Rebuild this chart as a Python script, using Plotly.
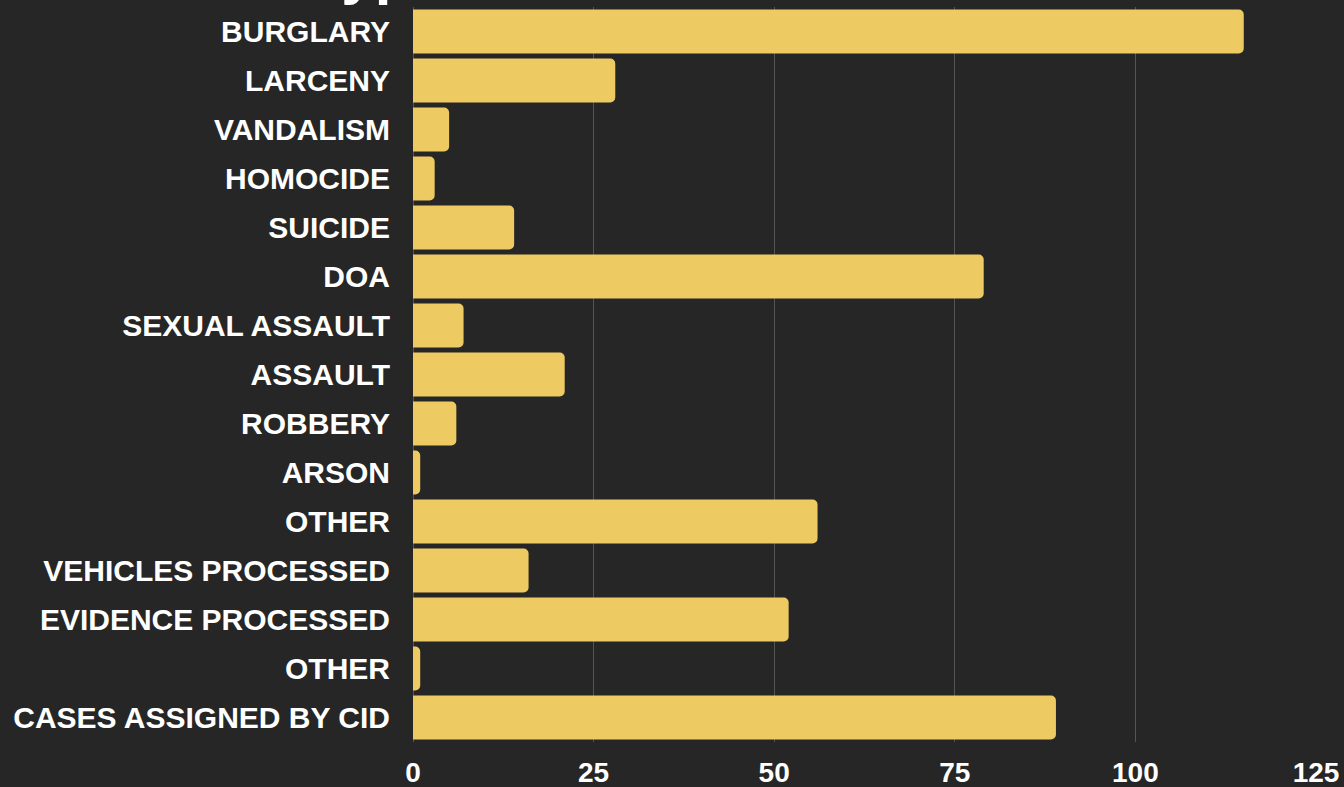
import plotly.graph_objects as go

categories = [
    "BURGLARY", "LARCENY", "VANDALISM", "HOMOCIDE", "SUICIDE", "DOA",
    "SEXUAL ASSAULT", "ASSAULT", "ROBBERY", "ARSON", "OTHER",
    "VEHICLES PROCESSED", "EVIDENCE PROCESSED", "OTHER", "CASES ASSIGNED BY CID",
]
values = [115, 28, 5, 3, 14, 79, 7, 21, 6, 1, 56, 16, 52, 1, 89]
x_ticks = [0, 25, 50, 75, 100, 125]
title_text = "Case Type"

positions = list(range(len(categories)))

fig = go.Figure(go.Bar(
    x=values,
    y=positions,
    orientation="h",
    marker=dict(color="#EECA62", line=dict(width=0)),
    hoverinfo="x+text",
    text=categories,
    textposition="none",
))

fig.update_layout(
    width=1344, height=787,
    paper_bgcolor="#262626", plot_bgcolor="#262626",
    margin=dict(l=413, r=28, t=7, b=45, autoexpand=False),
    bargap=0.1,
    barcornerradius=5,
    showlegend=False,
    font=dict(family="Liberation Sans, Arial, sans-serif", color="#FFFFFF"),
)
fig.update_xaxes(
    range=[0, 125], tickvals=x_ticks, ticktext=[str(v) for v in x_ticks],
    showgrid=True, gridcolor="#555555", gridwidth=1,
    zeroline=True, zerolinecolor="#555555", zerolinewidth=1,
    showline=False, automargin=False,
    tickfont=dict(size=28, family="Liberation Sans, Arial, sans-serif", color="#FFFFFF", weight="bold"),
    ticklabelstandoff=11,
)
fig.update_yaxes(
    range=[len(categories) - 0.5, -0.5],
    tickvals=positions, ticktext=categories,
    showgrid=False, zeroline=False, showline=False, automargin=False,
    tickfont=dict(size=30, family="Liberation Sans, Arial, sans-serif", color="#FFFFFF", weight="bold"),
    ticklabelstandoff=22,
)
fig.add_annotation(
    text="<b>" + title_text + "</b>",
    xref="x", yref="paper", x=4.7, y=1.0, xanchor="right", yanchor="bottom",
    yshift=-1,
    showarrow=False,
    font=dict(size=60, family="Liberation Sans, Arial, sans-serif", color="#FFFFFF"),
)

fig.write_html(
    "out.html",
    config={"displayModeBar": False},
    post_script="document.body.style.margin='0';document.body.style.overflow='hidden';",
)
